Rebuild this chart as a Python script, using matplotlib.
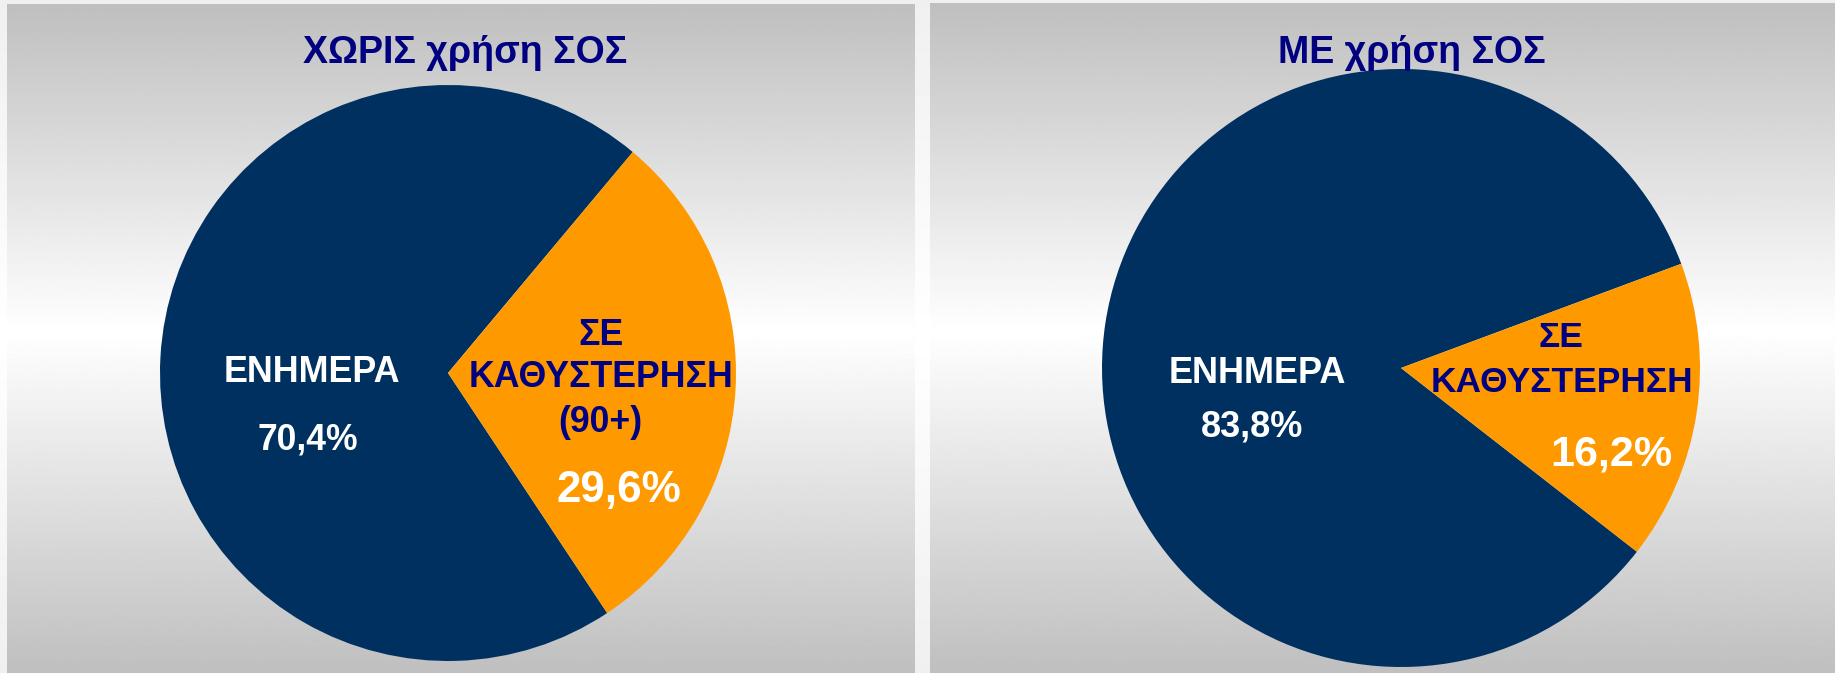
import matplotlib
matplotlib.use("Agg")
import matplotlib.pyplot as plt
import numpy as np

plt.rcParams['font.family'] = ['Liberation Sans', 'DejaVu Sans']
plt.rcParams['font.weight'] = 'bold'

# data
titles = ["ΧΩΡΙΣ χρήση ΣΟΣ", "ΜΕ χρήση ΣΟΣ"]
categories = ["ΕΝΗΜΕΡΑ", "ΣΕ ΚΑΘΥΣΤΕΡΗΣΗ"]
without_sos = [70.4, 29.6]
with_sos = [83.8, 16.2]
late_lines = [["ΣΕ", "ΚΑΘΥΣΤΕΡΗΣΗ", "(90+)"], ["ΣΕ", "ΚΑΘΥΣΤΕΡΗΣΗ"]]

W, H = 1835, 673
navy = "#003060"
orange = "#FF9900"
textblue = "#000080"

fig = plt.figure(figsize=(W / 100, H / 100), dpi=100)

def fbox(x0, y0, x1, y1):
    # pixel box (top-left origin) -> figure fraction rect
    return [x0 / W, 1 - y1 / H, (x1 - x0) / W, (y1 - y0) / H]

def vgrad(lo, hi, mid=0.5):
    t = np.linspace(0, 1, 400)
    d = np.where(t < mid, (mid - t) / mid, (t - mid) / (1 - mid))
    v = hi - (hi - lo) * d
    return np.repeat(v[:, None], 2, axis=1)

# outer background
bg = fig.add_axes([0, 0, 1, 1])
bg.imshow(vgrad(0.94, 1.0), cmap="gray", vmin=0, vmax=1, aspect="auto", extent=[0, 1, 0, 1])
bg.axis("off")

panels = [(7, 4, 914, 673), (930, 3, 1835, 673)]
for p in panels:
    a = fig.add_axes(fbox(*p))
    a.imshow(vgrad(0.75, 1.0, 0.49), cmap="gray", vmin=0, vmax=1, aspect="auto", extent=[0, 1, 0, 1])
    a.axis("off")

# pie geometry in pixels: center x, center y, radius, start angle
pies = [(448, 373, 288, 50.1), (1401, 368, 299, 20.4)]
datasets = [without_sos, with_sos]
title_pos = [(465, 63), (1412, 63)]

# label pixel positions (x center, baseline y, size)
label_cfg = [
    dict(enh=(312, 382, 25.8), pct=(307.5, 450, 25.6),
         late=[(601, 345), (601, 387), (600, 432)], late_size=25.7, lpct=(619, 502, 31.7)),
    dict(enh=(1257, 383, 26), pct=(1252, 437, 26),
         late=[(1561, 347), (1562, 392)], late_size=25.5, lpct=(1611, 465, 31)),
]

for i, (cx, cy, r, start) in enumerate(pies):
    ax = fig.add_axes(fbox(cx - r, cy - r, cx + r, cy + r))
    ax.pie(datasets[i], colors=[navy, orange], startangle=start, counterclock=True,
           radius=1, wedgeprops=dict(linewidth=0))
    ax.set_xlim(-1, 1)
    ax.set_ylim(-1, 1)
    ax.set_aspect("equal")
    ax.axis("off")

    def d(px, py):
        return (px - cx) / r, (cy - py) / r

    cfg = label_cfg[i]
    vals = datasets[i]
    x, y = d(*cfg["enh"][:2])
    ax.text(x, y, categories[0], color="white", fontsize=cfg["enh"][2], ha="center", va="baseline")
    x, y = d(*cfg["pct"][:2])
    ax.text(x, y, f"{vals[0]:.1f}%".replace(".", ","), color="white", fontsize=cfg["pct"][2],
            ha="center", va="baseline")
    for line, pos in zip(late_lines[i], cfg["late"]):
        x, y = d(*pos)
        ax.text(x, y, line, color=textblue, fontsize=cfg["late_size"], ha="center", va="baseline")
    x, y = d(*cfg["lpct"][:2])
    ax.text(x, y, f"{vals[1]:.1f}%".replace(".", ","), color="white", fontsize=cfg["lpct"][2],
            ha="center", va="baseline")

    tx, ty = title_pos[i]
    fig.text(tx / W, 1 - ty / H, titles[i], color=textblue, fontsize=27, ha="center", va="baseline")

fig.savefig("out.png", dpi=100)
